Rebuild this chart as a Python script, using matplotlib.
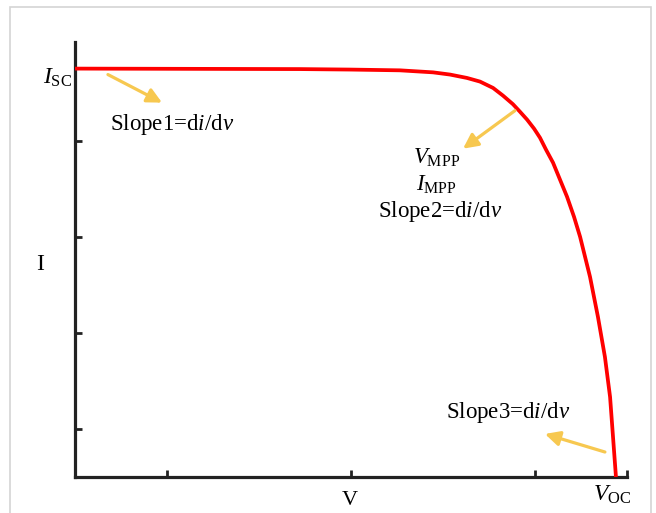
#I-V curve sketch with slope annotations
import matplotlib.pyplot as plt
from matplotlib.patches import Rectangle

plt.rcParams['font.family'] = 'Liberation Serif'
plt.rcParams['mathtext.fontset'] = 'custom'
plt.rcParams['mathtext.rm'] = 'Liberation Serif'
plt.rcParams['mathtext.it'] = 'Liberation Serif:italic'

# curve points (V, I)
volt = [0.0, 1.223, 1.495, 1.766, 1.946, 2.038, 2.130, 2.201, 2.272, 2.326,
        2.380, 2.418, 2.457, 2.495, 2.527, 2.560, 2.598, 2.636, 2.674, 2.712,
        2.745, 2.799, 2.842, 2.880, 2.908, 2.924, 2.940]
curr = [4.25, 4.245, 4.240, 4.232, 4.211, 4.188, 4.153, 4.115, 4.049, 3.969,
        3.880, 3.802, 3.719, 3.625, 3.531, 3.406, 3.271, 3.094, 2.917, 2.708,
        2.500, 2.083, 1.667, 1.250, 0.833, 0.417, 0.0]
xticks = [0.5, 1.5, 2.5, 3.0]
yticks = [0.5, 1.5, 2.5, 3.5]

fig = plt.figure(figsize=(6.56, 5.13), dpi=100)
# light grey frame round the picture
fig.patches.append(Rectangle((10/656, -0.1), 641/656, 1.1 - 7/513, transform=fig.transFigure,
                             fill=False, edgecolor='#d4d4d4', lw=1.2))
ax = fig.add_axes([75/656, 36/513, 552/656, 435.3/513])

ax.plot(volt, curr, color='#ff0000', lw=2.7, solid_capstyle='butt',
        solid_joinstyle='round', zorder=3)
ax.set_xlim(0, 3.0)
ax.set_ylim(0, 4.53)
for s in ['top', 'right']:
    ax.spines[s].set_visible(False)
for s in ['left', 'bottom']:
    ax.spines[s].set_linewidth(2.3)
    ax.spines[s].set_color('#222222')
ax.set_xticks(xticks)
ax.set_yticks(yticks)
ax.tick_params(direction='in', length=5, width=2, color='#222222',
               labelbottom=False, labelleft=False)

fs = 16.5
arrow = dict(arrowstyle='-|>', lw=2.3, color='#f7c850', mutation_scale=22, shrinkA=0, shrinkB=0)

ax.annotate('', xy=(0.473, 3.896), xytext=(0.179, 4.188), arrowprops=arrow)
ax.text(0.527, 3.667, r'Slope1=d$i$/d$v$', fontsize=fs, ha='center', va='center')

ax.annotate('', xy=(2.109, 3.417), xytext=(2.391, 3.8125), arrowprops=arrow)
ax.text(1.967, 3.323, r'$V_{\mathrm{MPP}}$', fontsize=fs, ha='center', va='center')
ax.text(1.967, 3.042, r'$I_{\mathrm{MPP}}$', fontsize=fs, ha='center', va='center')
ax.text(1.984, 2.760, r'Slope2=d$i$/d$v$', fontsize=fs, ha='center', va='center')

ax.annotate('', xy=(2.554, 0.448), xytext=(2.880, 0.260), arrowprops=arrow)
ax.text(2.353, 0.667, r'Slope3=d$i$/d$v$', fontsize=fs, ha='center', va='center')

ax.text(-0.016, 4.15, r'$I_{\mathrm{SC}}$', fontsize=17, ha='right', va='center', clip_on=False)
ax.text(2.918, -0.1875, r'$V_{\mathrm{OC}}$', fontsize=17, ha='center', va='center', clip_on=False)
ax.text(1.495, -0.15, 'V', fontsize=16, ha='center', va='top', clip_on=False)
ax.text(-0.19, 2.208, 'I', fontsize=17, ha='center', va='center', clip_on=False)

plt.savefig('out.png', dpi=100)
